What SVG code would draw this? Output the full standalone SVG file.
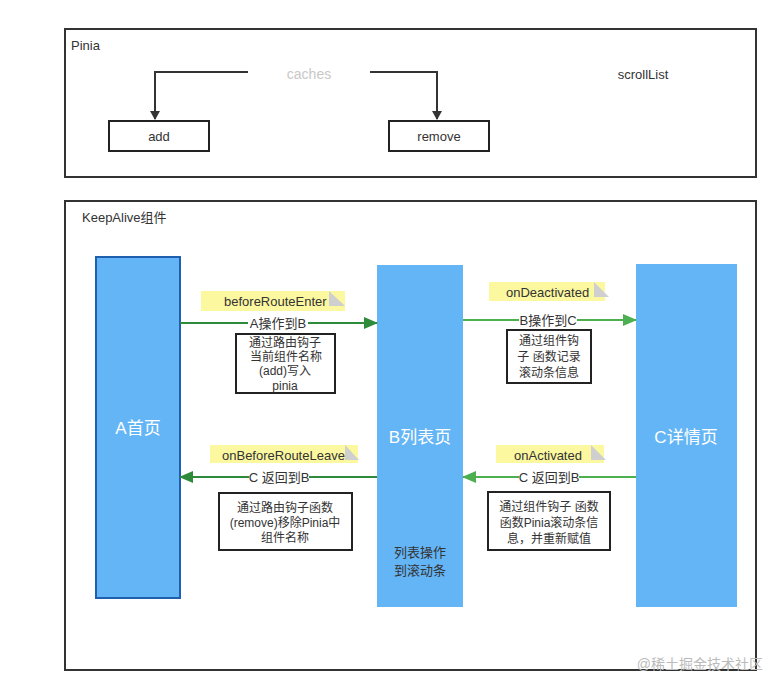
<svg xmlns="http://www.w3.org/2000/svg" width="782" height="695" viewBox="0 0 782 695">
<style>
text{font-family:"Liberation Sans","Noto Sans CJK SC",sans-serif;fill:#333;font-size:13px}
.frame{fill:#fff;stroke:#333;stroke-width:2}
.box{fill:#fff;stroke:#222;stroke-width:2}
.page{fill:#64b5f6}
.pageA{fill:#64b5f6;stroke:#1e5fb0;stroke-width:2}
.ptxt{fill:#fff;font-size:17px;text-anchor:middle}
.note{fill:#fcf8a0}
.fold{fill:#cfcfcf}
.c{text-anchor:middle}
.dk{stroke:#333;stroke-width:2;fill:none}
.g1{stroke:#2e8b3b;stroke-width:2;fill:none}
.g2{stroke:#4caf50;stroke-width:2;fill:none}
.lbl{fill:#fff}
</style>
<defs>
<marker id="ad" markerWidth="10" markerHeight="10" refX="8" refY="5" orient="auto" markerUnits="userSpaceOnUse"><path d="M0,0 L9,5 L0,10 Z" fill="#333"/></marker>
<marker id="ag1" markerWidth="14" markerHeight="12" refX="13" refY="6" orient="auto" markerUnits="userSpaceOnUse"><path d="M0,0 L14,6 L0,12 Z" fill="#2e8b3b"/></marker>
<marker id="ag2" markerWidth="14" markerHeight="12" refX="13" refY="6" orient="auto" markerUnits="userSpaceOnUse"><path d="M0,0 L14,6 L0,12 Z" fill="#4caf50"/></marker>
</defs>
<rect width="782" height="695" fill="#fff"/>

<g id="pinia">
<rect class="frame" x="65" y="29" width="691" height="148"/>
<text x="71" y="50">Pinia</text>
</g>
<g id="caches"><text x="309" y="79" class="c" style="fill:#c8c8c8;font-size:14px">caches</text></g>
<g id="scrollList"><text x="643" y="79" class="c">scrollList</text></g>
<g id="add"><rect class="box" x="109" y="121" width="100" height="30"/><text x="159" y="141" class="c">add</text></g>
<g id="remove"><rect class="box" x="389" y="121" width="100" height="30"/><text x="439" y="141" class="c">remove</text></g>

<g id="keepalive">
<rect class="frame" x="65" y="201" width="691" height="469"/>
<text x="82" y="222">KeepAlive组件</text>
</g>

<g id="pageA"><rect class="pageA" x="96" y="257" width="84" height="341"/><text x="138" y="434" class="ptxt">A首页</text></g>
<g id="pageB"><rect class="page" x="377" y="265" width="86" height="342"/><text x="420" y="443" class="ptxt">B列表页</text>
<text x="420" y="557" class="c">列表操作</text><text x="420" y="575" class="c">到滚动条</text></g>
<g id="pageC"><rect class="page" x="636" y="264" width="101" height="343"/><text x="686" y="443" class="ptxt">C详情页</text></g>

<g id="connectors">
<path class="dk" d="M248,72 H155 V119" marker-end="url(#ad)"/>
<path class="dk" d="M370,72 H437 V119" marker-end="url(#ad)"/>
<path class="g1" d="M180,323 H377" marker-end="url(#ag1)"/>
<rect class="lbl" x="248" y="316" width="60" height="15"/>
<text x="278" y="328" class="c">A操作到B</text>
<path class="g2" d="M463,320 H636" marker-end="url(#ag2)"/>
<rect class="lbl" x="519" y="313" width="58" height="15"/>
<text x="548" y="325" class="c">B操作到C</text>
<path class="g1" d="M377,477 H180" marker-end="url(#ag1)"/>
<rect class="lbl" x="249" y="470" width="60" height="15"/>
<text x="279" y="482" class="c">C 返回到B</text>
<path class="g2" d="M636,477 H463" marker-end="url(#ag2)"/>
<rect class="lbl" x="519" y="470" width="60" height="15"/>
<text x="549" y="482" class="c">C 返回到B</text>
</g>

<g id="note1"><rect class="note" x="201" y="291" width="144" height="20"/><path class="fold" d="M329,291 L345,306 L329,306 Z"/><text x="224" y="306">beforeRouteEnter</text></g>
<g id="note2"><rect class="note" x="489" y="282" width="116" height="19"/><path class="fold" d="M594,282 L609,297 L594,297 Z"/><text x="506" y="297">onDeactivated</text></g>
<g id="note3"><rect class="note" x="210" y="445" width="148" height="18"/><path class="fold" d="M345,445 L359,460 L345,460 Z"/><text x="222" y="460">onBeforeRouteLeave</text></g>
<g id="note4"><rect class="note" x="496" y="445" width="108" height="18"/><path class="fold" d="M591,445 L606,460 L591,460 Z"/><text x="514" y="460">onActivated</text></g>

<g id="desc1"><rect class="box" x="236" y="334" width="99" height="59"/>
<text class="c" x="285" y="347" style="font-size:12px">通过路由钩子</text>
<text class="c" x="286" y="361" style="font-size:12px">当前组件名称</text>
<text class="c" x="285" y="375" style="font-size:12px">(add)写入</text>
<text class="c" x="285" y="390" style="font-size:12px">pinia</text></g>
<g id="desc2"><rect class="box" x="507" y="330" width="84" height="53"/>
<text class="c" x="549" y="345" style="font-size:12px">通过组件钩</text>
<text class="c" x="549" y="361" style="font-size:12px">子 函数记录</text>
<text class="c" x="549" y="377" style="font-size:12px">滚动条信息</text></g>
<g id="desc3"><rect class="box" x="219" y="493" width="133" height="57"/>
<text class="c" x="285" y="512" style="font-size:12px">通过路由钩子函数</text>
<text class="c" x="285" y="527" style="font-size:12px">(remove)移除Pinia中</text>
<text class="c" x="285" y="542" style="font-size:12px">组件名称</text></g>
<g id="desc4"><rect class="box" x="488" y="492" width="122" height="58"/>
<text class="c" x="549" y="511" style="font-size:12px">通过组件钩子 函数</text>
<text class="c" x="549" y="527" style="font-size:12px">函数Pinia滚动条信</text>
<text class="c" x="549" y="543" style="font-size:12px">息，并重新赋值</text></g>

<text x="763" y="669" style="fill:#bbb;font-size:14px;text-anchor:end">@稀土掘金技术社区</text>
</svg>
